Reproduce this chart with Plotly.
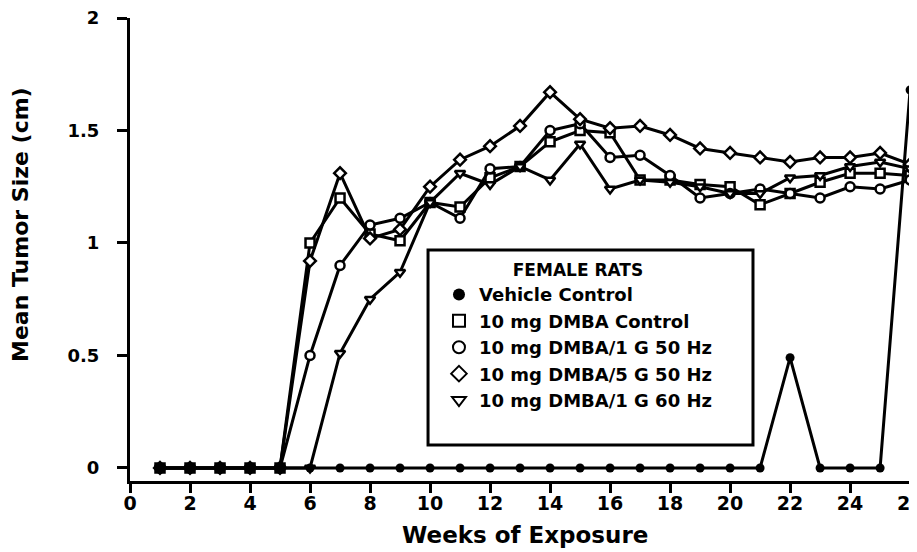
import plotly.graph_objects as go

# Semanas de exposición
weeks = list(range(1, 27))

# Tamaño medio del tumor (cm)
vehicle = [0] * 21 + [0.49, 0, 0, 0, 1.68]
dmba_ctrl = [0, 0, 0, 0, 0, 1.00, 1.20, 1.04, 1.01, 1.18, 1.16, 1.29, 1.34, 1.45, 1.50,
             1.49, 1.28, 1.28, 1.26, 1.25, 1.17, 1.22, 1.27, 1.31, 1.31, 1.30]
g1_50 = [0, 0, 0, 0, 0, 0.50, 0.90, 1.08, 1.11, 1.18, 1.11, 1.33, 1.34, 1.50, 1.53,
         1.38, 1.39, 1.30, 1.20, 1.22, 1.24, 1.22, 1.20, 1.25, 1.24, 1.28]
g5_50 = [0, 0, 0, 0, 0, 0.92, 1.31, 1.02, 1.06, 1.25, 1.37, 1.43, 1.52, 1.67, 1.55,
         1.51, 1.52, 1.48, 1.42, 1.40, 1.38, 1.36, 1.38, 1.38, 1.40, 1.35]
g1_60 = [0, 0, 0, 0, 0, 0, 0.51, 0.75, 0.87, 1.18, 1.31, 1.26, 1.34, 1.28, 1.44,
         1.24, 1.28, 1.27, 1.25, 1.22, 1.22, 1.29, 1.30, 1.34, 1.36, 1.33]

series = [
    ("10 mg DMBA Control", dmba_ctrl, "square"),
    ("10 mg DMBA/1 G 50 Hz", g1_50, "circle"),
    ("10 mg DMBA/5 G 50 Hz", g5_50, "diamond"),
    ("10 mg DMBA/1 G 60 Hz", g1_60, "triangle-down"),
]

FONT = "DejaVu Sans, Liberation Sans, sans-serif"

fig = go.Figure()

# lineas de datos
for nombre, vals, simbolo in series:
    fig.add_trace(go.Scatter(
        x=weeks, y=vals, mode="lines+markers", showlegend=False,
        line=dict(color="black", width=3),
        marker=dict(symbol=simbolo, size=9, color="white",
                    line=dict(color="black", width=2.5)),
        cliponaxis=False,
    ))
fig.add_trace(go.Scatter(
    x=weeks, y=vehicle, mode="lines+markers", showlegend=False,
    line=dict(color="black", width=3),
    marker=dict(symbol="circle", size=9, color="black"),
    cliponaxis=False,
))

# entradas de leyenda (solo marcadores)
fig.add_trace(go.Scatter(x=[None], y=[None], mode="markers", name="Vehicle Control",
                         marker=dict(symbol="circle", size=10, color="black")))
for nombre, vals, simbolo in series:
    fig.add_trace(go.Scatter(
        x=[None], y=[None], mode="markers", name=nombre,
        marker=dict(symbol=simbolo, size=10, color="white",
                    line=dict(color="black", width=2.5)),
    ))

fig.update_xaxes(
    range=[0, 26.23], tickvals=list(range(0, 27, 2)),
    showline=True, linecolor="black", linewidth=3,
    ticks="outside", ticklen=9, tickwidth=3, tickcolor="black",
    showgrid=False, zeroline=False, automargin=False, ticklabelstandoff=-6,
    ticklabeloverflow="allow",
    tickfont=dict(family=FONT, size=19, color="black", weight="bold"),
)
fig.update_yaxes(
    range=[-0.058, 2], tickvals=[0, 0.5, 1, 1.5, 2], ticktext=["0", "0.5", "1", "1.5", "2"],
    showline=True, linecolor="black", linewidth=3,
    ticks="outside", ticklen=10, tickwidth=3, tickcolor="black",
    showgrid=False, zeroline=False, ticklabelstandoff=14, automargin=False,
    ticklabeloverflow="allow",
    tickfont=dict(family=FONT, size=18, color="black", weight="bold"),
)

# titulos de ejes
fig.add_annotation(text="Weeks of Exposure", xref="paper", yref="paper",
                   x=0.502, y=-0.1166, xanchor="center", yanchor="middle", showarrow=False,
                   font=dict(family=FONT, size=23, color="black", weight="bold"))
fig.add_annotation(text="Mean Tumor Size (cm)", xref="paper", yref="paper",
                   x=-0.1385, y=0.553, xanchor="center", yanchor="middle",
                   showarrow=False, textangle=-90,
                   font=dict(family=FONT, size=22, color="black", weight="bold"))

# recuadro de la leyenda
fig.add_shape(type="rect", xref="paper", yref="paper",
              x0=0.3787, x1=0.7916, y0=0.0778, y1=0.499,
              line=dict(color="black", width=3), fillcolor="white", layer="above")

# la pagina tiene 8 px de margen en el body: se compensa con el tamaño
fig.update_layout(
    width=909, height=544,
    margin=dict(l=122, r=0, t=10, b=71),
    plot_bgcolor="white", paper_bgcolor="white",
    legend=dict(
        x=0.3926, y=0.490, xanchor="left", yanchor="top",
        borderwidth=0, bgcolor="rgba(0,0,0,0)",
        title=dict(text="FEMALE RATS", side="top center",
                   font=dict(family=FONT, size=17, color="black", weight="bold")),
        font=dict(family=FONT, size=18, color="black", weight="bold"),
        itemsizing="constant", tracegroupgap=0,
    ),
)

fig.write_html("out.html")
